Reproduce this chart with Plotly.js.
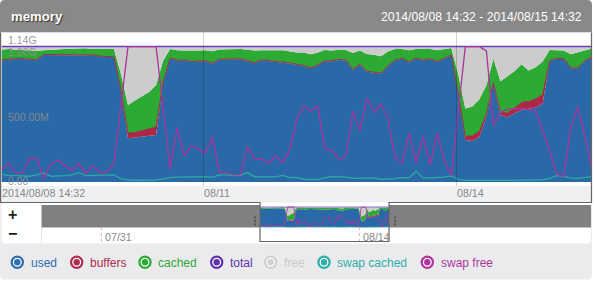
<!DOCTYPE html>
<html>
<head>
<meta charset="utf-8">
<script src="https://cdn.plot.ly/plotly-3.0.1.min.js"></script>
<style>
  html, body { margin: 0; padding: 0; background: #ffffff; }
  #chart { width: 594px; height: 281px; }
</style>
</head>
<body>
<div id="chart"></div>
<script>
// ---------------- DATA (MB, one sample every 2 hours) ----------------
const startLabel = "2014/08/08 14:32";
const endLabel = "2014/08/15 14:32";
const seriesNames = ["used", "buffers", "cached", "total", "free", "swap cached", "swap free"];

const used = [932,939,944,944,939,934,975,975,975,972,970,970,970,970,962,960,957,
  692,336,342,349,357,362,760,
  949,930,934,920,925,927,908,938,938,940,942,925,912,934,929,920,915,910,
  900,890,872,895,926,927,937,933,860,900,846,837,831,888,
  932,945,917,946,932,942,920,946,970,
  670,322,316,345,500,754,515,498,528,553,562,572,600,
  927,944,944,872,870,925,958];

const buffers = [4,4,4,4,4,4,4,4,4,4,4,4,4,4,4,4,4,
  10,38,38,44,49,60,10,
  4,4,4,4,4,4,4,4,4,4,4,4,4,4,4,4,4,4,
  4,4,4,4,4,4,4,4,4,4,4,4,4,4,
  4,4,4,4,4,4,4,4,4,
  8,28,39,45,20,8,22,32,40,58,55,66,70,
  4,4,4,4,4,4,4];

const cached = [79,78,67,64,64,69,31,36,42,45,49,52,52,47,55,57,60,
  125,218,246,267,284,323,160,
  68,76,70,82,79,79,92,74,74,74,75,86,93,72,79,86,91,85,
  89,99,104,94,82,78,74,75,126,105,133,136,130,110,
  84,71,89,70,82,74,86,70,54,
  147,215,225,245,222,183,237,282,282,292,239,242,254,
  81,60,60,104,120,81,62];

const free = [25,19,25,28,33,33,30,25,19,19,17,14,14,19,19,19,19,
  213,448,414,380,350,295,110,
  19,30,32,34,32,30,36,24,24,22,19,25,31,30,28,30,30,41,
  47,47,60,47,28,31,25,28,50,31,57,63,75,38,
  20,20,30,20,22,20,30,20,12,
  215,475,460,405,298,95,266,228,190,137,184,160,116,
  28,32,32,60,46,30,16];

const total = [1040,1040,1040,1040,1040,1040,1040,1040,1040,1040,1040,1040,1040,1040,1040,1040,1040,
  1040,1040,1040,1040,1040,1040,1040,
  1040,1040,1040,1040,1040,1040,1040,1040,1040,1040,1040,1040,1040,1040,1040,1040,1040,1040,
  1040,1040,1040,1040,1040,1040,1040,1040,1040,1040,1040,1040,1040,1040,
  1040,1040,1040,1040,1040,1040,1040,1040,1040,
  1040,1040,1040,1040,1040,1040,1040,1040,1040,1040,1040,1040,1040,
  1040,1040,1040,1040,1040,1040,1040];

const swapCached = [62,50,50,48,45,55,72,45,45,50,55,72,50,50,52,55,55,
  26,15,14,14,14,16,24,
  34,38,40,40,44,42,36,55,56,50,52,73,40,40,42,40,52,35,
  36,21,20,20,33,43,41,38,28,28,28,32,20,22,
  27,35,32,82,30,33,34,38,48,
  22,13,12,12,12,13,13,13,13,13,13,13,18,
  27,50,44,30,29,35,42];

const swapFree = [100,145,72,72,185,185,30,138,168,126,88,142,65,126,72,78,145,
  590,1038,1038,1038,1038,1038,570,
  100,416,202,278,256,221,347,75,75,56,58,272,178,180,145,200,151,244,
  478,583,545,583,260,244,177,198,542,394,646,532,599,485,
  190,145,376,150,349,135,378,165,52,
  545,1038,1038,1038,1006,432,533,560,563,565,558,545,400,
  240,60,44,418,577,355,105];

const yTickVals = [1140, 1000, 500, 0];
const yTickText = ["1.14G", "1.00G", "500.00M", "0.00"];
const xTickText = ["2014/08/08 14:32", "08/11", "08/14"];
const navTickText = ["07/31", "08/14"];

// ---------------- TIME AXIS ----------------
const HOUR = 3600 * 1000, DAY = 24 * HOUR;
const t0 = Date.UTC(2014, 7, 8, 14, 32);
const t1 = t0 + 7 * DAY;
const times = used.map((_, i) => t0 + i * 2 * HOUR);
const xTickVals = [t0, Date.UTC(2014, 7, 11), Date.UTC(2014, 7, 14)];
const navTickVals = [Date.UTC(2014, 6, 31), Date.UTC(2014, 7, 14)];

// ---------------- GEOMETRY / STYLE ----------------
const W = 594, H = 281;
const X = p => p / W;
const Y = p => 1 - p / H;
const P = (x, y) => X(x) + "," + Y(y);
const FONT = "Liberation Sans, Arial, sans-serif";

const colors = {
  used: "#2a69a8", buffers: "#ad2748", cached: "#2caa34", total: "#6a3cc0",
  free: "#cccccc", swapCached: "#2aaba2", swapFree: "#ad339c"
};
const legendColors = ["#2d6db0", "#b02c4c", "#2caa34", "#5f32ad", "#d0d0d0", "#2bb0a6", "#ae359e"];

// main plot pixel box
const mainL = 1.5, mainR = 591.8, mainTop = 33.4, mainBot = 182.1;
// navigator pixel box
const navL = 41.7, navR = 591, navTop = 205, navBot = 227.6;
const winL = 260, winR = 389;
const pxPerMs = (winR - winL) / (t1 - t0);
const navRange = [t0 - (winL - navL) / pxPerMs, t1 + (navR - winR) / pxPerMs];

function rr(x0, y0, x1, y1, r, tl, tr, br, bl) {
  const a = tl ? r : 0, b = tr ? r : 0, c = br ? r : 0, d = bl ? r : 0;
  return "M" + P(x0 + a, y0) + " L" + P(x1 - b, y0) +
    " Q" + P(x1, y0) + " " + P(x1, y0 + b) +
    " L" + P(x1, y1 - c) + " Q" + P(x1, y1) + " " + P(x1 - c, y1) +
    " L" + P(x0 + d, y1) + " Q" + P(x0, y1) + " " + P(x0, y1 - d) +
    " L" + P(x0, y0 + a) + " Q" + P(x0, y0) + " " + P(x0 + a, y0) + " Z";
}
function rect(x0, y0, x1, y1, fill, layer) {
  return { type: "rect", xref: "paper", yref: "paper", x0: X(x0), x1: X(x1), y0: Y(y1), y1: Y(y0),
    fillcolor: fill, line: { width: 0 }, layer: layer || "below" };
}

// ---------------- TRACES ----------------
function area(name, y, color, xa, ya, group, lw, lc) {
  return { type: "scatter", mode: "lines", name: name, x: times, y: y, xaxis: xa, yaxis: ya,
    stackgroup: group, fillcolor: color, line: { width: lw || 0, color: lc || color },
    hoverinfo: "skip", showlegend: false };
}
function line(name, y, color, xa, ya, w) {
  return { type: "scatter", mode: "lines", name: name, x: times, y: y, xaxis: xa, yaxis: ya,
    line: { width: w, color: color }, hoverinfo: "skip", showlegend: false };
}

const traces = [
  area("used", used, colors.used, "x", "y", "main"),
  area("buffers", buffers, colors.buffers, "x", "y", "main", 0.9, "#9c2242"),
  area("cached", cached, colors.cached, "x", "y", "main"),
  area("free", free, colors.free, "x", "y", "main"),
  line("total", total, colors.total, "x", "y", 1.5),
  line("swap cached", swapCached, colors.swapCached, "x", "y", 1.3),
  line("swap free", swapFree, colors.swapFree, "x", "y", 1.3),
  area("used", used, colors.used, "x2", "y2", "mini"),
  area("buffers", buffers, colors.buffers, "x2", "y2", "mini"),
  area("cached", cached, colors.cached, "x2", "y2", "mini"),
  area("free", free, colors.free, "x2", "y2", "mini"),
  line("total", total, colors.total, "x2", "y2", 0.7),
  line("swap cached", swapCached, colors.swapCached, "x2", "y2", 0.7),
  line("swap free", swapFree, colors.swapFree, "x2", "y2", 0.8)
];

// ---------------- SHAPES ----------------
const shapes = [
  { type: "path", xref: "paper", yref: "paper", path: rr(0, 0, 592, 279.5, 5, 1, 1, 1, 1), fillcolor: "#ebebed", line: { width: 0 }, layer: "below" },
  { type: "path", xref: "paper", yref: "paper", path: rr(0, 0, 592, 32.5, 5, 1, 1, 0, 0), fillcolor: "#898989", line: { width: 0 }, layer: "below" },
  rect(1, 32.5, 591.5, 186, "#ffffff"),
  rect(1, 186, 591.5, 202.5, "#eff0f2"),
  { type: "path", xref: "paper", yref: "paper", path: rr(1.5, 202.5, 591, 243.5, 4, 0, 0, 1, 1), fillcolor: "#ffffff", line: { width: 0 }, layer: "below" },
  { type: "line", xref: "paper", yref: "paper", x0: X(41.5), x1: X(41.5), y0: Y(243.5), y1: Y(205), line: { color: "#e3e3e3", width: 1 }, layer: "below" },
  rect(navL, navTop, winL, navBot, "#808080"),
  rect(winR, navTop, navR, navBot, "#808080")
];
// main vertical grid lines at the date ticks (skip the first = left edge)
xTickVals.slice(1).forEach(v => shapes.push({ type: "line", xref: "x", yref: "paper", x0: v, x1: v,
  y0: Y(186), y1: Y(32.5), line: { color: "rgba(0,0,0,0.2)", width: 1 }, layer: "above" }));
// navigator dotted ticks
navTickVals.forEach(v => shapes.push({ type: "line", xref: "x2", yref: "paper", x0: v, x1: v,
  y0: Y(242), y1: Y(navBot), line: { color: "#bdbdbd", width: 1, dash: "dot" }, layer: "above" }));
// outline joining main chart with the navigator window
shapes.push({ type: "path", xref: "paper", yref: "paper",
  path: "M" + P(0.6, 32.5) + " L" + P(0.6, 202.5) + " L" + P(winL, 202.5) + " L" + P(winL, 241.5) +
        " L" + P(winR, 241.5) + " L" + P(winR, 202.5) + " L" + P(591.5, 202.5) + " L" + P(591.5, 32.5),
  line: { color: "#666666", width: 1.2 }, fillcolor: "rgba(0,0,0,0)", layer: "above" });
// window handles
[255, 395].forEach(hx => [217.5, 221, 224.5].forEach(hy => shapes.push(
  rect(hx - 1, hy - 1, hx + 1, hy + 1, "#555555", "above"))));

// ---------------- ANNOTATIONS ----------------
const ann = [];
function txt(x, y, text, opts) {
  return Object.assign({ x: x, y: y, xref: "paper", yref: "paper", text: text, showarrow: false,
    xanchor: "left", yanchor: "middle", borderpad: 0, borderwidth: 0,
    font: { family: FONT, size: 10.7, color: "#888888" } }, opts || {});
}
ann.push(txt(X(11.3), Y(16.5), "memory", { font: { family: FONT, size: 13.2, color: "#ffffff", weight: "bold", shadow: "1px 1px 1px #333333" } }));
ann.push(txt(X(582), Y(17.2), startLabel + " - " + endLabel, { xanchor: "right", font: { family: FONT, size: 12.2, color: "#ffffff" } }));
yTickVals.forEach((v, i) => {
  const shift = i === 0 ? -6.6 : (i === 1 ? -0.6 : (i === yTickVals.length - 1 ? 0.8 : 0));
  ann.push(txt(X(7.5), v, yTickText[i], { yref: "y", yshift: shift, font: { family: FONT, size: 10.5, color: "rgba(140,140,140,0.9)" } }));
});
xTickVals.forEach((v, i) => ann.push(txt(v, Y(193.5), xTickText[i], { xref: "x", xshift: i === 0 ? 0.3 : 0.8 })));
navTickVals.forEach((v, i) => ann.push(txt(v, Y(236.8), navTickText[i], { xref: "x2", xshift: 3.2 })));
ann.push(txt(X(12.3), Y(214.3), "+", { xanchor: "center", font: { family: FONT, size: 16, color: "#222222", weight: "bold" } }));
ann.push(txt(X(12.3), Y(233.3), "\u2212", { xanchor: "center", font: { family: FONT, size: 16, color: "#222222", weight: "bold" } }));

// legend
const legendCx = [17.3, 76.7, 145, 216.7, 270.7, 324, 427.3];
const legendCy = 262.3;
seriesNames.forEach((n, i) => {
  const cx = legendCx[i], c = legendColors[i];
  shapes.push({ type: "circle", xref: "paper", yref: "paper", x0: X(cx - 5.6), x1: X(cx + 5.6),
    y0: Y(legendCy + 5.6), y1: Y(legendCy - 5.6), fillcolor: "#ffffff", line: { color: c, width: 2.2 }, layer: "above" });
  shapes.push({ type: "circle", xref: "paper", yref: "paper", x0: X(cx - 3.2), x1: X(cx + 3.2),
    y0: Y(legendCy + 3.2), y1: Y(legendCy - 3.2), fillcolor: c, line: { width: 0 }, layer: "above" });
  ann.push(txt(X(cx + 13.4), Y(legendCy + 0.4), n, { font: { family: FONT, size: 12, color: i === 4 ? "#c9c9c9" : c } }));
});

// ---------------- LAYOUT ----------------
const layout = {
  width: W, height: H,
  margin: { l: 0, r: 0, t: 0, b: 0 },
  paper_bgcolor: "#ffffff", plot_bgcolor: "rgba(0,0,0,0)",
  showlegend: false,
  xaxis: { type: "date", domain: [X(mainL), X(mainR)], range: [t0, t1], visible: false, fixedrange: true },
  yaxis: { domain: [Y(mainBot), Y(mainTop)], range: [0, 1140], visible: false, fixedrange: true },
  xaxis2: { type: "date", domain: [X(navL), X(navR)], range: navRange, visible: false, anchor: "y2", fixedrange: true },
  yaxis2: { domain: [Y(navBot), Y(navTop)], range: [0, 1140], visible: false, anchor: "x2", fixedrange: true },
  shapes: shapes,
  annotations: ann
};

Plotly.newPlot("chart", traces, layout, { staticPlot: true, displayModeBar: false });
</script>
</body>
</html>
